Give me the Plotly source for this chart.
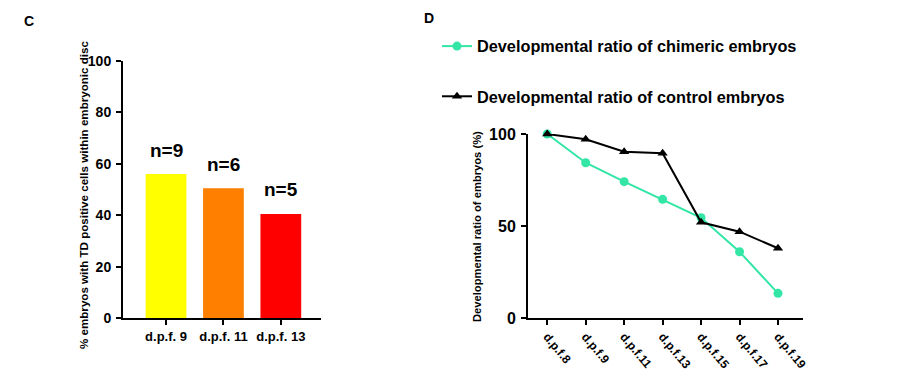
import plotly.graph_objects as go

# Panel C data
bar_categories = ["d.p.f. 9", "d.p.f. 11", "d.p.f. 13"]
bar_values = [56, 50.5, 40.5]
bar_colors = ["#ffff00", "#ff7f00", "#ff0000"]
bar_labels = ["n=9", "n=6", "n=5"]

# Panel D data
line_categories = ["d.p.f.8", "d.p.f.9", "d.p.f.11", "d.p.f.13", "d.p.f.15", "d.p.f.17", "d.p.f.19"]
chimeric_values = [100, 84.4, 74.1, 64.5, 54.5, 36, 13.4]
control_values = [100, 97.1, 90.4, 89.5, 52, 46.9, 37.9]

FONT = "Liberation Sans"
OFF = 8  # default page body margin
W, H = 900 - 2 * OFF, 378 - 2 * OFF

def px_x(p):
    return (p - OFF) / W

def px_y(p):
    return 1 - (p - OFF) / H

fig = go.Figure()

fig.add_trace(go.Bar(
    x=bar_categories, y=bar_values, marker=dict(color=bar_colors, line=dict(width=0)),
    width=0.71, xaxis="x", yaxis="y", showlegend=False,
))

fig.add_trace(go.Scatter(
    x=line_categories, y=chimeric_values, mode="lines+markers",
    name="Developmental ratio of chimeric embryos",
    line=dict(color="#33e6a6", width=2), marker=dict(symbol="circle", size=9, color="#33e6a6"),
    xaxis="x2", yaxis="y2", cliponaxis=False, legendgroup="a",
))
fig.add_trace(go.Scatter(
    x=line_categories, y=control_values, mode="lines+markers",
    name="Developmental ratio of control embryos",
    line=dict(color="#000000", width=2), marker=dict(symbol="triangle-up", size=9, color="#000000"),
    xaxis="x2", yaxis="y2", cliponaxis=False, legendgroup="b",
))

axis_common = dict(
    showline=True, linecolor="black", linewidth=2, ticks="outside", ticklen=5,
    tickwidth=2, tickcolor="black", showgrid=False, zeroline=False, automargin=False,
)

annotations = []
for cat, val, lab in zip(bar_categories, bar_values, bar_labels):
    annotations.append(dict(
        x=cat, y=val, xref="x", yref="y", text=lab, showarrow=False,
        yshift=24, font=dict(family=FONT, size=19, color="black", weight="bold"),
    ))

def paper_text(x, y, text, size, angle=0):
    return dict(x=px_x(x), y=px_y(y), xref="paper", yref="paper", text=text, showarrow=False,
                xanchor="center", yanchor="middle", textangle=angle,
                font=dict(family=FONT, size=size, color="black", weight="bold"))

annotations += [
    paper_text(29, 21, "C", 14),
    paper_text(429, 18, "D", 14),
    paper_text(84, 195, "% embryos with TD positive cells within embryonic disc", 11.6, -90),
    paper_text(477, 227, "Developmental ratio of embryos (%)", 11.2, -90),
]

fig.update_layout(
    width=W, height=H, margin=dict(l=0, r=0, t=0, b=0, pad=0, autoexpand=False),
    paper_bgcolor="white", plot_bgcolor="white",
    font=dict(family=FONT, color="black"),
    xaxis=dict(domain=[px_x(123), px_x(321)], anchor="y", range=[-0.75, 2.7],
               tickfont=dict(family=FONT, size=13, color="black", weight="bold"), **axis_common),
    yaxis=dict(domain=[px_y(318), px_y(61)], anchor="x", range=[0, 100], tickvals=[0, 20, 40, 60, 80, 100],
               ticklabelstandoff=2,
               tickfont=dict(family=FONT, size=14, color="black", weight="bold"), **axis_common),
    xaxis2=dict(domain=[px_x(528), px_x(803)], anchor="y2", range=[-0.5, 6.65], tickangle=50,
                tickfont=dict(family=FONT, size=12, color="black", weight="bold"), **axis_common),
    yaxis2=dict(domain=[px_y(318), px_y(134)], anchor="x2", range=[0, 100], tickvals=[0, 50, 100],
                ticklabelstandoff=2,
                tickfont=dict(family=FONT, size=16, color="black", weight="bold"), **axis_common),
    showlegend=True,
    legend=dict(x=px_x(437), y=px_y(29), xanchor="left", yanchor="top",
                font=dict(family=FONT, size=16.3, color="black", weight="bold"),
                traceorder="grouped", tracegroupgap=26, itemwidth=30,
                bgcolor="rgba(0,0,0,0)"),
    annotations=annotations,
)

fig.write_html("out.html")
